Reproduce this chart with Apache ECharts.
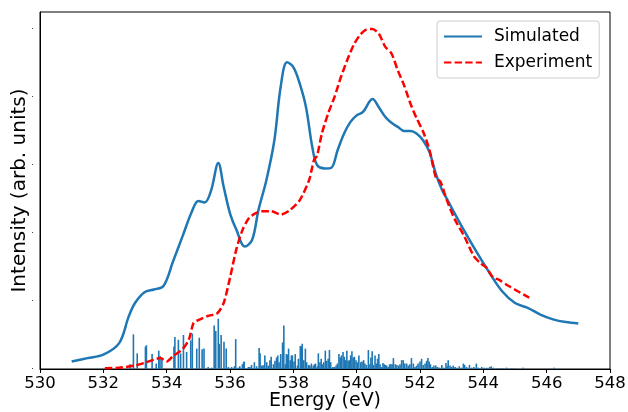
<!DOCTYPE html>
<html>
<head>
<meta charset="utf-8">
<script src="https://cdn.jsdelivr.net/npm/echarts@6/dist/echarts.min.js"></script>
<style>
html,body{margin:0;padding:0;background:#fff;}
#chart{width:628px;height:412px;}
</style>
</head>
<body>
<div id="chart"></div>
<script>
// Simulated spectrum (broadened)
const simX = [531, 531.5, 532, 532.5, 532.8, 533.0, 533.3, 533.6, 533.9, 534.2, 534.5, 534.8, 535.0, 535.2, 535.4, 535.63, 535.8, 536.0, 536.2, 536.47, 536.7, 536.9, 537.15, 537.4, 537.6, 537.8, 538.0, 538.2, 538.4, 538.6, 538.75, 539.0, 539.2, 539.4, 539.6, 539.8, 540.0, 540.2, 540.4, 540.5, 540.7, 540.9, 541.1, 541.3, 541.5, 541.7, 541.9, 542.1, 542.3, 542.5, 542.7, 542.9, 543.0, 543.4, 543.8, 544.2, 544.6, 545.0, 545.4, 545.8, 546.2, 546.6, 547.0];
const simY = [0.11, 0.16, 0.21, 0.38, 0.77, 0.97, 1.13, 1.17, 1.22, 1.58, 1.95, 2.32, 2.47, 2.45, 2.62, 3.03, 2.68, 2.29, 2.05, 1.80, 1.90, 2.34, 2.78, 3.36, 4.15, 4.51, 4.44, 4.20, 3.85, 3.26, 3.0, 2.95, 2.96, 3.22, 3.46, 3.63, 3.73, 3.78, 3.93, 3.97, 3.85, 3.71, 3.62, 3.56, 3.50, 3.50, 3.46, 3.36, 3.19, 2.87, 2.63, 2.46, 2.37, 2.03, 1.71, 1.41, 1.14, 0.97, 0.90, 0.80, 0.73, 0.69, 0.67];

// Experiment
const expX = [532.05, 532.5, 533.0, 533.3, 533.6, 533.8, 534.0, 534.2, 534.5, 534.7, 534.85, 535.0, 535.3, 535.6, 535.8, 536.0, 536.2, 536.4, 536.6, 536.8, 537.0, 537.3, 537.6, 537.9, 538.2, 538.5, 538.65, 538.75, 538.9, 539.1, 539.3, 539.5, 539.7, 539.9, 540.1, 540.3, 540.5, 540.7, 540.9, 541.1, 541.3, 541.5, 541.7, 541.9, 542.1, 542.3, 542.5, 542.65, 542.85, 543.1, 543.4, 543.7, 543.9, 544.1, 544.3, 544.5, 544.8, 545.1, 545.45];
const expY = [0.01, 0.02, 0.05, 0.09, 0.14, 0.16, 0.11, 0.19, 0.29, 0.43, 0.68, 0.72, 0.78, 0.82, 0.97, 1.34, 1.76, 2.05, 2.22, 2.29, 2.32, 2.32, 2.27, 2.34, 2.48, 2.78, 3.07, 3.14, 3.46, 3.76, 4.0, 4.29, 4.54, 4.76, 4.91, 4.99, 5.0, 4.93, 4.74, 4.64, 4.39, 4.17, 3.90, 3.68, 3.49, 3.22, 2.82, 2.75, 2.48, 2.20, 1.95, 1.66, 1.56, 1.49, 1.35, 1.31, 1.22, 1.14, 1.05];

// Stick spectrum (transitions)
const stickX = [532.84, 532.95, 533.07, 533.33, 533.36, 533.54, 533.67, 533.75, 533.79, 533.85, 534.23, 534.26, 534.37, 534.44, 534.53, 534.63, 534.76, 534.81, 534.95, 535.03, 535.12, 535.18, 535.31, 535.42, 535.50, 535.55, 535.63, 535.66, 535.72, 535.81, 535.88, 535.95, 536.05, 536.14, 536.18, 536.26, 536.31, 536.39, 536.43, 536.45, 536.58, 536.63, 536.68, 536.77, 536.84, 536.92, 536.95, 537.00, 537.04, 537.08, 537.10, 537.16, 537.21, 537.26, 537.30, 537.37, 537.42, 537.47, 537.51, 537.55, 537.60, 537.66, 537.70, 537.75, 537.78, 537.82, 537.85, 537.90, 537.94, 537.97, 538.02, 538.06, 538.13, 538.16, 538.22, 538.25, 538.28, 538.33, 538.38, 538.42, 538.48, 538.52, 538.57, 538.63, 538.67, 538.70, 538.76, 538.79, 538.84, 538.88, 538.92, 538.96, 539.01, 539.05, 539.10, 539.14, 539.18, 539.25, 539.30, 539.35, 539.39, 539.44, 539.48, 539.52, 539.57, 539.61, 539.65, 539.69, 539.73, 539.77, 539.81, 539.85, 539.89, 539.93, 539.98, 540.02, 540.07, 540.13, 540.17, 540.22, 540.26, 540.31, 540.37, 540.42, 540.45, 540.49, 540.53, 540.58, 540.62, 540.66, 540.70, 540.74, 540.78, 540.83, 540.87, 540.91, 540.95, 541.00, 541.04, 541.08, 541.12, 541.16, 541.22, 541.27, 541.33, 541.37, 541.42, 541.47, 541.52, 541.58, 541.63, 541.68, 541.73, 541.79, 541.84, 541.89, 541.94, 542.00, 542.05, 542.10, 542.16, 542.21, 542.25, 542.29, 542.33, 542.39, 542.44, 542.50, 542.56, 542.62, 542.69, 542.75, 542.82, 542.86, 542.89, 542.95, 543.00, 543.05, 543.11, 543.17, 543.24, 543.31, 543.37, 543.41, 543.47, 543.56, 543.63, 543.70, 543.78, 543.84, 543.95, 544.03, 544.11, 544.20, 544.25, 544.31, 544.42, 544.53, 544.61, 544.73, 544.89, 544.97, 545.26, 546.24];
const stickY = [0.07, 0.51, 0.23, 0.33, 0.35, 0.22, 0.08, 0.27, 0.19, 0.15, 0.33, 0.47, 0.43, 0.23, 0.50, 0.25, 0.42, 0.52, 0.30, 0.46, 0.29, 0.30, 0.03, 0.02, 0.64, 0.56, 0.74, 0.37, 0.50, 0.40, 0.30, 0.03, 0.03, 0.04, 0.44, 0.02, 0.04, 0.07, 0.10, 0.11, 0.03, 0.03, 0.06, 0.10, 0.04, 0.31, 0.23, 0.05, 0.05, 0.06, 0.20, 0.10, 0.05, 0.13, 0.18, 0.07, 0.12, 0.17, 0.20, 0.10, 0.22, 0.39, 0.64, 0.07, 0.22, 0.21, 0.30, 0.13, 0.20, 0.20, 0.11, 0.22, 0.05, 0.15, 0.34, 0.33, 0.37, 0.13, 0.30, 0.10, 0.06, 0.05, 0.08, 0.05, 0.07, 0.08, 0.04, 0.23, 0.10, 0.15, 0.07, 0.10, 0.27, 0.12, 0.15, 0.28, 0.10, 0.03, 0.03, 0.05, 0.08, 0.22, 0.17, 0.20, 0.25, 0.18, 0.13, 0.27, 0.12, 0.13, 0.20, 0.26, 0.17, 0.18, 0.13, 0.10, 0.20, 0.10, 0.11, 0.13, 0.08, 0.06, 0.28, 0.07, 0.17, 0.26, 0.06, 0.20, 0.08, 0.15, 0.22, 0.07, 0.03, 0.09, 0.07, 0.06, 0.05, 0.03, 0.07, 0.07, 0.07, 0.16, 0.07, 0.06, 0.05, 0.07, 0.13, 0.13, 0.08, 0.08, 0.05, 0.07, 0.16, 0.08, 0.03, 0.05, 0.08, 0.11, 0.15, 0.06, 0.08, 0.12, 0.16, 0.11, 0.07, 0.03, 0.05, 0.05, 0.03, 0.02, 0.06, 0.02, 0.09, 0.04, 0.13, 0.05, 0.03, 0.05, 0.03, 0.02, 0.04, 0.02, 0.08, 0.06, 0.03, 0.06, 0.02, 0.03, 0.08, 0.02, 0.03, 0.02, 0.02, 0.03, 0.04, 0.02, 0.01, 0.01, 0.01, 0.02, 0.01, 0.01, 0.02, 0.02];

const xTicks = [530, 532, 534, 536, 538, 540, 542, 544, 546, 548];
const seriesNames = ['Simulated', 'Experiment'];

const zip = (a, b) => a.map((v, i) => [v, b[i]]);
const FONT = 'DejaVu Sans';

const chart = echarts.init(document.getElementById('chart'), null, {renderer: 'canvas'});
chart.setOption({
  animation: false,
  backgroundColor: '#fff',
  grid: {left: 40, top: 12, width: 570, height: 357, show: true, borderColor: '#000', borderWidth: 1,
         backgroundColor: 'transparent', containLabel: false, outerBoundsMode: 'none'},
  xAxis: {
    type: 'value', min: xTicks[0], max: xTicks[xTicks.length - 1], interval: 2,
    name: 'Energy (eV)', nameLocation: 'middle', nameGap: 23, nameMoveOverlap: false,
    nameTextStyle: {fontFamily: FONT, fontSize: 19, color: '#000'},
    axisLine: {lineStyle: {color: '#000', width: 1}},
    axisTick: {show: true, length: 4, lineStyle: {color: '#000'}},
    axisLabel: {fontFamily: FONT, fontSize: 16.5, color: '#000', margin: 6},
    splitLine: {show: false}
  },
  yAxis: {
    type: 'value', min: 0, max: 5.25, interval: 1,
    name: 'Intensity (arb. units)', nameLocation: 'middle', nameGap: 10, nameMoveOverlap: false,
    nameTextStyle: {fontFamily: FONT, fontSize: 20, color: '#000'},
    axisLine: {show: true, lineStyle: {color: '#000', width: 1}},
    axisTick: {show: false},
    axisLabel: {show: true, formatter: () => '·', fontSize: 8, color: '#000', margin: 6, showMaxLabel: false},
    splitLine: {show: false}
  },
  legend: {
    data: seriesNames,
    orient: 'vertical', left: 437, top: 21,
    padding: [6, 7, 6, 6],
    itemWidth: 38, itemHeight: 14, itemGap: 7,
    borderColor: '#ccc', borderWidth: 1, borderRadius: 3, backgroundColor: 'rgba(255,255,255,0.8)',
    itemStyle: {opacity: 0},
    textStyle: {fontFamily: FONT, fontSize: 17, color: '#000', lineHeight: 19, padding: [0, 0, 0, 7]}
  },
  series: [
    {
      name: 'Transitions', type: 'bar', data: zip(stickX, stickY),
      barWidth: 1.6, itemStyle: {color: '#1f77b4'}, z: 1, silent: true
    },
    {
      name: 'Simulated', type: 'line', data: zip(simX, simY), smooth: 0.35,
      symbol: 'none', lineStyle: {color: '#1f77b4', width: 2.5}, itemStyle: {color: '#1f77b4', opacity: 0}, z: 2
    },
    {
      name: 'Experiment', type: 'line', data: zip(expX, expY), smooth: 0.25,
      symbol: 'none', lineStyle: {color: '#ff0000', width: 2.5, type: [7.4, 3.2]}, itemStyle: {color: '#ff0000', opacity: 0}, z: 3
    }
  ]
});
</script>
</body>
</html>
